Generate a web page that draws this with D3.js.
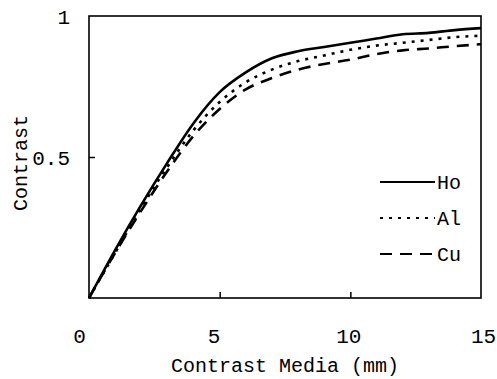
<!DOCTYPE html>
<html>
<head>
<meta charset="utf-8">
<script src="https://cdn.jsdelivr.net/npm/d3@7"></script>
<style>
  body { margin: 0; background: #fff; }
  text { font-family: "Liberation Mono", "DejaVu Sans Mono", monospace; fill: #000; }
</style>
</head>
<body>
<div id="chart"></div>
<script>
// contrast media thickness (mm)
const thickness = [0, 1, 2, 3, 4, 5, 6, 7, 8, 9, 10, 11, 12, 13, 14, 15];
const ho = [0, 0.17, 0.33, 0.48, 0.62, 0.73, 0.80, 0.85, 0.875, 0.89, 0.905, 0.92, 0.935, 0.94, 0.95, 0.957];
const al = [0, 0.16, 0.32, 0.465, 0.595, 0.695, 0.765, 0.81, 0.84, 0.86, 0.88, 0.895, 0.905, 0.915, 0.925, 0.93];
const cu = [0, 0.16, 0.31, 0.45, 0.575, 0.67, 0.74, 0.78, 0.81, 0.83, 0.845, 0.865, 0.878, 0.885, 0.893, 0.9];
const seriesNames = ["Ho", "Al", "Cu"];
const xTicks = [0, 5, 10, 15];
const yTicks = [0.5, 1];

const width = 497;
const height = 379;
const margin = {top: 16, right: 16, bottom: 81, left: 89};
const innerWidth = width - margin.left - margin.right;
const innerHeight = height - margin.top - margin.bottom;

const svg = d3.select("#chart")
    .append("svg")
    .attr("width", width)
    .attr("height", height);

const graph = svg.append("g")
    .attr("transform", `translate(${margin.left}, ${margin.top})`);

const xScale = d3.scaleLinear().domain([0, 15]).range([0, innerWidth]);
const yScale = d3.scaleLinear().domain([0, 1]).range([innerHeight, 0]);
// the printed tick numbers sit a little wider apart than the ticks
const xLabelScale = d3.scaleLinear().domain([0, 15]).range([-10, innerWidth + 2]);

const series = [
    {name: "Ho", values: ho, dash: null},
    {name: "Al", values: al, dash: "3,6"},
    {name: "Cu", values: cu, dash: "12,8"}
];

// frame
graph.append("rect")
    .attr("width", innerWidth)
    .attr("height", innerHeight)
    .attr("fill", "none")
    .attr("stroke", "#000")
    .attr("stroke-width", 1.6);

// inward ticks
graph.append("g")
    .attr("transform", `translate(0, ${innerHeight})`)
    .call(d3.axisTop(xScale).tickValues(xTicks.slice(1, -1)).tickSize(6).tickFormat(""))
    .call(g => g.select(".domain").remove())
    .selectAll("line").attr("stroke-width", 1.5);

graph.append("g")
    .call(d3.axisRight(yScale).tickValues([0.5]).tickSize(6).tickFormat(""))
    .call(g => g.select(".domain").remove())
    .selectAll("line").attr("stroke-width", 1.5);

// tick labels
graph.append("g")
    .attr("transform", `translate(0, ${innerHeight + 35})`)
    .call(d3.axisBottom(xLabelScale).tickValues(xTicks).tickSize(0).tickFormat(d3.format("d")))
    .call(g => g.select(".domain").remove())
    .selectAll("text")
    .attr("dy", "0.35em")
    .style("font-size", "21px");

graph.append("g")
    .attr("transform", "translate(-16, 0)")
    .call(d3.axisLeft(yScale).tickValues(yTicks).tickSize(0).tickFormat(d => d === 1 ? "1" : "0.5"))
    .call(g => g.select(".domain").remove())
    .selectAll("text")
    .attr("dy", "0.35em")
    .style("font-size", "21px");

// curves
const line = d3.line()
    .x((d, i) => xScale(thickness[i]))
    .y(d => yScale(d))
    .curve(d3.curveMonotoneX);

graph.selectAll(".curve")
    .data(series)
    .join("path")
    .attr("class", "curve")
    .attr("d", d => line(d.values))
    .attr("fill", "none")
    .attr("stroke", "#000")
    .attr("stroke-width", 2.6)
    .attr("stroke-dasharray", d => d.dash);

// legend
const legendY = d3.scalePoint().domain(seriesNames).range([166, 238]);
const legend = graph.selectAll(".legend")
    .data(series)
    .join("g")
    .attr("class", "legend")
    .attr("transform", d => `translate(291, ${legendY(d.name)})`);

legend.append("line")
    .attr("x1", 0).attr("x2", 55)
    .attr("stroke", "#000")
    .attr("stroke-width", 2)
    .attr("stroke-dasharray", d => d.dash);

legend.append("text")
    .attr("x", 57)
    .attr("dy", "0.35em")
    .style("font-size", "20px")
    .text(d => d.name);

// axis titles
svg.append("text")
    .attr("x", 285)
    .attr("y", 365)
    .attr("text-anchor", "middle")
    .attr("dy", "0.35em")
    .style("font-size", "20px")
    .text("Contrast Media (mm)");

svg.append("text")
    .attr("transform", "translate(20, 163) rotate(-90)")
    .attr("text-anchor", "middle")
    .attr("dy", "0.35em")
    .style("font-size", "20px")
    .text("Contrast");
</script>
</body>
</html>
